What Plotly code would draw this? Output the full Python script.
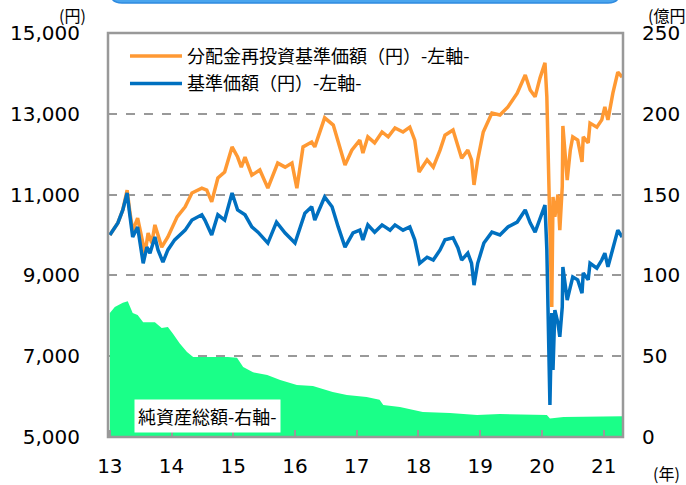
import plotly.graph_objects as go

# ---- data (decimal years) ----
nav_x = [2013.00, 2013.13, 2013.21, 2013.28, 2013.32, 2013.37, 2013.45, 2013.54, 2013.60, 2013.65,
         2013.73, 2013.78, 2013.86, 2013.94, 2014.05, 2014.22, 2014.33, 2014.49, 2014.54, 2014.65,
         2014.75, 2014.86, 2014.98, 2015.07, 2015.19, 2015.30, 2015.40, 2015.56, 2015.70, 2015.84,
         2016.00, 2016.16, 2016.27, 2016.32, 2016.48, 2016.60, 2016.70, 2016.81, 2016.94, 2017.05,
         2017.10, 2017.18, 2017.29, 2017.41, 2017.54, 2017.62, 2017.75, 2017.86, 2017.94, 2018.02,
         2018.14, 2018.24, 2018.35, 2018.43, 2018.56, 2018.64, 2018.70, 2018.80, 2018.86, 2018.90,
         2018.96, 2019.06, 2019.19, 2019.32, 2019.45, 2019.60, 2019.73, 2019.81, 2019.89, 2019.97,
         2020.05, 2020.08, 2020.10, 2020.13, 2020.16, 2020.18, 2020.21, 2020.26, 2020.29, 2020.33,
         2020.34, 2020.41, 2020.46, 2020.50, 2020.58, 2020.65, 2020.67, 2020.75, 2020.78, 2020.89,
         2020.97, 2021.02, 2021.07, 2021.15, 2021.23, 2021.30]
nav_y = [10000, 10300, 10620, 11040, 10540, 9950, 10200, 9300, 9700, 9550,
         9950, 9630, 9330, 9630, 9880, 10120, 10370, 10500, 10370, 10000,
         10500, 10370, 11040, 10620, 10500, 10200, 10070, 9800, 10320, 10050,
         9800, 10540, 10700, 10370, 10940, 10700, 10200, 9700, 10050, 10120,
         9880, 10250, 10070, 10250, 10120, 10250, 10120, 10200, 9880, 9300,
         9450, 9380, 9630, 9880, 9930, 9680, 9380, 9550, 9300, 8760,
         9300, 9800, 10070, 10000, 10200, 10320, 10620, 10300, 10070, 10420,
         10740, 9630, 8220, 5790, 8070, 6660, 8140, 7820, 7480, 8220,
         9210, 8390, 8710, 8960, 8890, 8560, 9060, 8890, 9300, 9180,
         9380, 9550, 9210, 9700, 10120, 9950]

reinv_x = [2013.00, 2013.13, 2013.21, 2013.28, 2013.32, 2013.37, 2013.45, 2013.57, 2013.62, 2013.68,
           2013.73, 2013.84, 2013.94, 2014.09, 2014.22, 2014.33, 2014.49, 2014.57, 2014.65, 2014.75,
           2014.86, 2014.98, 2015.07, 2015.13, 2015.19, 2015.30, 2015.43, 2015.56, 2015.72, 2015.84,
           2015.95, 2016.03, 2016.13, 2016.27, 2016.32, 2016.48, 2016.62, 2016.70, 2016.81, 2016.92,
           2017.05, 2017.10, 2017.18, 2017.29, 2017.41, 2017.51, 2017.62, 2017.75, 2017.86, 2017.94,
           2018.01, 2018.14, 2018.24, 2018.35, 2018.43, 2018.56, 2018.64, 2018.70, 2018.80, 2018.86,
           2018.90, 2018.96, 2019.05, 2019.19, 2019.32, 2019.45, 2019.60, 2019.73, 2019.81, 2019.89,
           2019.97, 2020.05, 2020.08, 2020.10, 2020.13, 2020.16, 2020.18, 2020.21, 2020.26, 2020.29,
           2020.33, 2020.34, 2020.41, 2020.46, 2020.50, 2020.58, 2020.65, 2020.67, 2020.75, 2020.78,
           2020.89, 2020.97, 2021.02, 2021.07, 2021.15, 2021.23, 2021.30]
reinv_y = [10000, 10300, 10620, 11110, 10620, 10100, 10420, 9550, 10050, 9800,
           10250, 9700, 9950, 10450, 10700, 11040, 11160, 11110, 10820, 11410,
           11560, 12180, 11930, 11680, 11930, 11480, 11610, 11160, 11780, 11680,
           11780, 11160, 12180, 12300, 12180, 12900, 12720, 12280, 11730, 12100,
           12350, 12030, 12430, 12280, 12550, 12430, 12650, 12550, 12670, 12350,
           11560, 11860, 11680, 12100, 12470, 12600, 12230, 11900, 12100, 11860,
           11240, 11860, 12550, 13020, 12970, 13170, 13510, 13960, 13590, 13420,
           13890, 14260, 13420, 12100, 10870, 8220, 10940, 10450, 11000, 10120,
           11200, 12700, 11360, 12100, 12430, 12350, 11810, 12430, 12280, 12770,
           12670, 12850, 13170, 12850, 13510, 14030, 13910]

assets_x = [2013.00, 2013.08, 2013.21, 2013.29, 2013.37, 2013.45, 2013.54, 2013.62, 2013.73, 2013.84,
            2013.94, 2014.02, 2014.13, 2014.25, 2014.35, 2014.52, 2014.68, 2014.91, 2015.06, 2015.16,
            2015.32, 2015.55, 2015.76, 2016.03, 2016.29, 2016.61, 2016.84, 2017.16, 2017.37, 2017.43,
            2017.70, 2018.07, 2018.51, 2018.95, 2019.32, 2020.08, 2020.13, 2020.25, 2020.35, 2021.31]
assets_y = [76.8, 80.5, 83, 84, 76.8, 75.5, 71, 71, 71, 67.5,
            68, 64, 58, 52.6, 49.5, 49.5, 49.5, 49.5, 49, 43.3,
            40, 38.4, 35.3, 32.2, 31.6, 27.9, 26, 24.8, 23, 19.8,
            18.6, 15.5, 14.9, 13.6, 14.2, 13.6, 11.5, 11.8, 12.4, 12.8]

year_ticks = [2013, 2014, 2015, 2016, 2017, 2018, 2019, 2020, 2021]
year_labels = ["13", "14", "15", "16", "17", "18", "19", "20", "21"]
left_ticks = [5000, 7000, 9000, 11000, 13000, 15000]
right_ticks = [0, 50, 100, 150, 200, 250]

NUM_FONT = "DejaVu Sans, Noto Sans CJK JP"
JP_FONT = "Noto Sans CJK JP, DejaVu Sans"
GRAY = "#999999"

fig = go.Figure()
fig.add_trace(go.Scatter(x=assets_x, y=assets_y, yaxis="y2", mode="lines",
                         fill="tozeroy", fillcolor="#1aff88", line=dict(width=0, color="#1aff88"),
                         showlegend=False, hoverinfo="skip"))
fig.add_trace(go.Scatter(x=reinv_x, y=reinv_y, mode="lines", name="分配金再投資基準価額（円）-左軸-",
                         line=dict(color="#ff9933", width=3.5), legendgroup="a"))
fig.add_trace(go.Scatter(x=nav_x, y=nav_y, mode="lines", name="基準価額（円）-左軸-",
                         line=dict(color="#0070c0", width=3.5), legendgroup="b"))

fig.update_layout(
    width=686, height=485, autosize=False,
    margin=dict(l=108, r=63, t=33, b=48, autoexpand=False),
    paper_bgcolor="white", plot_bgcolor="white",
    font=dict(family=NUM_FONT, color="#000000"),
    xaxis=dict(range=[2012.97, 2021.314], tickvals=year_ticks, ticktext=year_labels,
               ticks="inside", ticklen=7, tickcolor=GRAY, tickwidth=1.5,
               showline=False, showgrid=False, zeroline=False, automargin=False,
               tickfont=dict(size=20, family=NUM_FONT), ticklabelstandoff=15),
    yaxis=dict(range=[5000, 15000], tickvals=left_ticks, tickformat=",",
               showline=False, automargin=False,
               showgrid=True, gridcolor=GRAY, griddash="dash", gridwidth=1.5,
               zeroline=False, ticks="", tickfont=dict(size=20, family=NUM_FONT),
               ticklabelstandoff=27),
    yaxis2=dict(range=[0, 250], tickvals=right_ticks, overlaying="y", side="right",
                showgrid=False, zeroline=False, showline=False, ticks="", automargin=False,
                tickfont=dict(size=20, family=NUM_FONT), ticklabelstandoff=18),
    legend=dict(x=0.033, y=0.988, xanchor="left", yanchor="top",
                font=dict(size=18, family=JP_FONT), bgcolor="rgba(0,0,0,0)",
                traceorder="grouped", tracegroupgap=1, itemwidth=52),
    showlegend=True,
)

# plot frame
fig.add_shape(type="rect", xref="paper", yref="paper", x0=0, y0=0, x1=1, y1=1,
              line=dict(color=GRAY, width=2.5), layer="above")

# blue rounded banner at the top (partly off the page)
x0, x1 = (110 - 108) / 515, (620 - 108) / 515
yb, yt = (437 - 3) / 404, (437 + 15) / 404
rx, ry = 12 / 515, 12 / 404
fig.add_shape(type="path", xref="paper", yref="paper",
              path=f"M {x0},{yt} L {x0},{yb + ry} Q {x0},{yb} {x0 + rx},{yb} "
                   f"L {x1 - rx},{yb} Q {x1},{yb} {x1},{yb + ry} L {x1},{yt} Z",
              fillcolor="#4aa5ee", line=dict(color="#2f8be0", width=1.5))

fig.add_annotation(text="純資産総額-右軸-", xref="paper", yref="paper",
                   xanchor="center", yanchor="middle",
                   x=(207 - 108) / 515, y=(437 - 415.5) / 404, showarrow=False,
                   font=dict(size=18, family=JP_FONT), bgcolor="white", borderpad=3)
fig.add_annotation(text="(円)", xref="paper", yref="paper", xanchor="center", yanchor="middle",
                   x=(72 - 108) / 515, y=(437 - 15) / 404, showarrow=False,
                   font=dict(size=16, family=JP_FONT))
fig.add_annotation(text="(億円)", xref="paper", yref="paper", xanchor="left", yanchor="middle",
                   x=(646 - 108) / 515, y=(437 - 15) / 404, showarrow=False,
                   font=dict(size=16, family=JP_FONT))
fig.add_annotation(text="(年)", xref="paper", yref="paper", xanchor="left", yanchor="middle",
                   x=(651 - 108) / 515, y=(437 - 473) / 404, showarrow=False,
                   font=dict(size=16, family=JP_FONT))

fig.write_html("out.html", config={"displayModeBar": False},
               post_script="document.body.style.margin='0';")
